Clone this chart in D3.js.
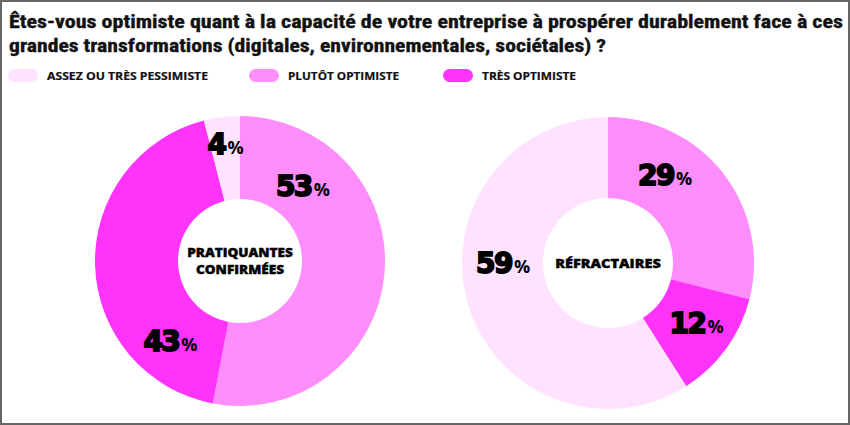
<!DOCTYPE html>
<html><head><meta charset="utf-8">
<script src="https://cdn.jsdelivr.net/npm/d3@7"></script>
<style>body{margin:0;background:#fff}svg{display:block}</style>
</head><body>
<svg id="c" width="850" height="425"></svg>
<script>
const titleLines = ["Êtes-vous optimiste quant à la capacité de votre entreprise à prospérer durablement face à ces",
                    "grandes transformations (digitales, environnementales, sociétales) ?"];
const categories = ["PLUTÔT OPTIMISTE", "TRÈS OPTIMISTE", "ASSEZ OU TRÈS PESSIMISTE"];
const legendOrder = ["ASSEZ OU TRÈS PESSIMISTE", "PLUTÔT OPTIMISTE", "TRÈS OPTIMISTE"];
const groups = [["PRATIQUANTES", "CONFIRMÉES"], ["RÉFRACTAIRES"]];
const valuesConfirmees = [53, 43, 4];
const valuesRefractaires = [29, 12, 59];

const colors = {"ASSEZ OU TRÈS PESSIMISTE": "#FFE2FE", "PLUTÔT OPTIMISTE": "#FF8DFC", "TRÈS OPTIMISTE": "#FF33FA"};
// layout (positions of each donut and label placement)
const donuts = [
  {values: valuesConfirmees, name: groups[0], cx: 240, cy: 261, R: 145, r: 62, labelAng: [40, 221, 353], labelR: [98, 106, 118]},
  {values: valuesRefractaires, name: groups[1], cx: 608, cy: 263, R: 146, r: 65, labelAng: [33, 124, 270], labelR: [105, 107, 105]}
];

const svg = d3.select("#c");
svg.append("rect").attr("x",1).attr("y",1).attr("width",848).attr("height",423)
  .attr("fill","#fff").attr("stroke","#666").attr("stroke-width",2);

// title
const titleW = [834, 597];
titleLines.forEach((t,i)=>{
  const tx = svg.append("text").attr("x",9).attr("y",28+i*24)
    .attr("font-family","'Liberation Sans Narrow','Roboto Condensed',sans-serif")
    .attr("font-weight",700).attr("font-size",18.5).attr("fill","#111")
    .attr("stroke","#111").attr("stroke-width",0.35).text(t);
  tx.attr("textLength", titleW[i]).attr("lengthAdjust","spacingAndGlyphs");
});

// legend
const legX = [8, 249, 443];
const legW = [161, 111, 94];
legendOrder.forEach((k,i)=>{
  const g = svg.append("g").attr("transform",`translate(${legX[i]},69)`);
  g.append("rect").attr("width",30).attr("height",13).attr("rx",6.5).attr("fill",colors[k]);
  g.append("text").attr("x",39).attr("y",10.5).attr("font-family","'Open Sans',sans-serif")
    .attr("font-weight",700).attr("font-size",10.5).attr("fill","#111")
    .attr("stroke","#111").attr("stroke-width",0.2).text(k)
    .attr("textLength",legW[i]).attr("lengthAdjust","spacingAndGlyphs");
});

const pie = d3.pie().sort(null).value(d=>d.v);
donuts.forEach(dn=>{
  const data = categories.map((c,i)=>({c, v: dn.values[i]}));
  const arc = d3.arc().innerRadius(dn.r).outerRadius(dn.R);
  const g = svg.append("g").attr("transform",`translate(${dn.cx},${dn.cy})`);
  g.selectAll("path").data(pie(data)).join("path").attr("d",arc).attr("fill",d=>colors[d.data.c]);
  // labels
  pie(data).forEach((d,i)=>{
    const a = dn.labelAng[i]*Math.PI/180, rr = dn.labelR[i];
    const x = rr*Math.sin(a), y = -rr*Math.cos(a);
    const t = g.append("text").attr("x",x).attr("y",y+10).attr("text-anchor","middle")
      .attr("fill","#000");
    t.append("tspan").attr("font-family","'DejaVu Sans',sans-serif").attr("font-weight",700)
      .attr("font-size",28).attr("stroke","#000").attr("stroke-width",1.8).attr("letter-spacing",-1.5).text(d.data.v);
    t.append("tspan").attr("font-family","'Open Sans',sans-serif").attr("font-weight",700)
      .attr("font-size",18).attr("dx",2).text("%");
  });
  // center label
  const n = dn.name.length;
  dn.name.forEach((line,i)=>{
    g.append("text").attr("x",0).attr("y",(i-(n-1)/2)*17+4.5).attr("text-anchor","middle")
      .attr("font-family","'Open Sans',sans-serif").attr("font-weight",800).attr("font-size",12.5)
      .attr("fill","#000").attr("stroke","#000").attr("stroke-width",0.4)
      .attr("textLength", line.length*8.8).attr("lengthAdjust","spacingAndGlyphs").text(line);
  });
});
</script>
</body></html>
